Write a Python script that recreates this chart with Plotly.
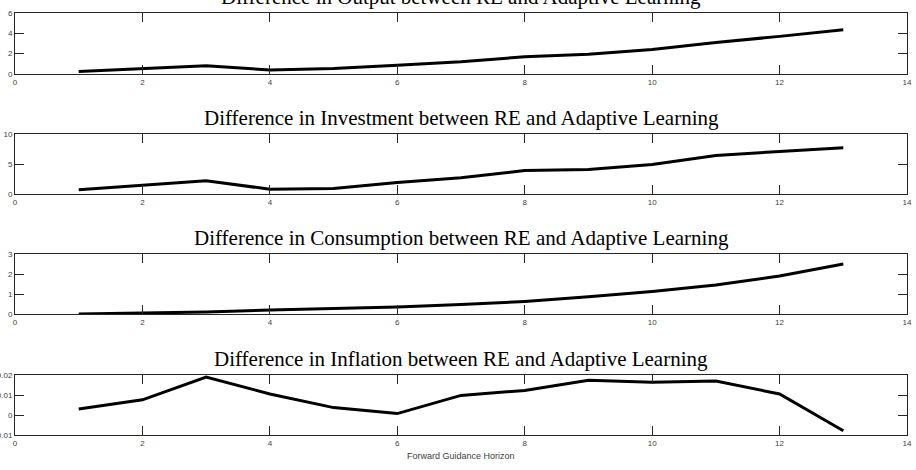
import plotly.graph_objects as go

horizon = list(range(1, 14))
output_diff = [0.25, 0.5, 0.8, 0.4, 0.55, 0.85, 1.2, 1.7, 1.95, 2.4, 3.1, 3.7, 4.35]
investment_diff = [0.7, 1.4, 2.2, 0.8, 0.9, 1.9, 2.7, 3.9, 4.1, 4.9, 6.4, 7.1, 7.7]
consumption_diff = [0.0, 0.05, 0.1, 0.2, 0.27, 0.35, 0.47, 0.63, 0.86, 1.12, 1.45, 1.9, 2.5]
inflation_diff = [0.003, 0.0076, 0.019, 0.0105, 0.0037, 0.0007, 0.0098, 0.0123, 0.0174, 0.0164, 0.017, 0.0105, -0.0079]

titles = [
    "Difference in Output between RE and Adaptive Learning",
    "Difference in Investment between RE and Adaptive Learning",
    "Difference in Consumption between RE and Adaptive Learning",
    "Difference in Inflation between RE and Adaptive Learning",
]
series = [output_diff, investment_diff, consumption_diff, inflation_diff]
y_ranges = [[0, 6], [0, 10], [0, 3], [-0.01, 0.02]]
y_ticks = [[0, 2, 4, 6], [0, 5, 10], [0, 1, 2, 3], [-0.01, 0, 0.01, 0.02]]
y_ticklabels = [["0", "2", "4", "6"], ["0", "5", "10"], ["0", "1", "2", "3"], ["-0.01", "0", "0.01", "0.02"]]
x_ticks = [0, 2, 4, 6, 8, 10, 12, 14]
x_label = "Forward Guidance Horizon"

W, H = 916, 470
panel_px = [(13, 74), (134, 194), (254, 314), (375, 435)]
x_left, x_right = 15, 907

fig = go.Figure()
axis_color = "#262626"
tick_font = dict(family="Liberation Sans, Arial, sans-serif", size=8, color="#404040")

for i, (vals, (top, bot)) in enumerate(zip(series, panel_px)):
    n = "" if i == 0 else str(i + 1)
    fig.add_trace(go.Scatter(x=horizon, y=vals, mode="lines",
                             line=dict(color="black", width=3),
                             xaxis="x" + n, yaxis="y" + n, showlegend=False))
    dom_y = [(H - bot) / H, (H - top) / H]
    fig.update_layout(**{
        "xaxis" + n: dict(domain=[x_left / W, x_right / W], range=[0, 14], tickvals=x_ticks,
                          ticks="inside", ticklen=9, tickcolor=axis_color, tickwidth=1,
                          showline=True, linecolor=axis_color, linewidth=1, mirror="ticks",
                          showgrid=False, zeroline=False, tickfont=tick_font,
                          anchor="y" + n, automargin=False),
        "yaxis" + n: dict(domain=dom_y, range=y_ranges[i], tickvals=y_ticks[i],
                          ticktext=y_ticklabels[i],
                          ticks="inside", ticklen=9, tickcolor=axis_color, tickwidth=1,
                          showline=True, linecolor=axis_color, linewidth=1, mirror="ticks",
                          showgrid=False, zeroline=False, tickfont=tick_font,
                          anchor="x" + n, automargin=False),
    })
    fig.add_annotation(text=titles[i], x=(x_left + x_right) / 2 / W, xref="paper",
                       y=(H - top) / H, yref="paper", yanchor="bottom", yshift=2,
                       showarrow=False,
                       font=dict(family="Liberation Serif, serif", size=21, color="black"))

fig.add_annotation(text=x_label, x=(x_left + x_right) / 2 / W, xref="paper",
                   y=(H - 456) / H, yref="paper", yanchor="middle", showarrow=False,
                   font=dict(family="Liberation Sans, Arial, sans-serif", size=9, color="#404040"))

fig.update_layout(width=W, height=H, margin=dict(l=0, r=0, t=0, b=0),
                  paper_bgcolor="white", plot_bgcolor="white")
fig.write_html("out.html")
